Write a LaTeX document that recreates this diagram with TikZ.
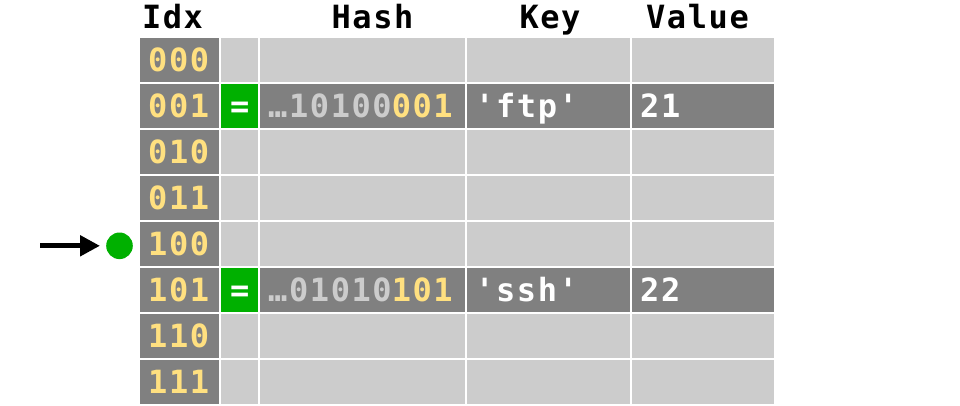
\documentclass[tikz,border=0pt]{standalone}
\usepackage{fontspec}
\usetikzlibrary{arrows.meta}
\newfontfamily\monof[LetterSpace=5]{DejaVu Sans Mono}
\definecolor{darkcell}{HTML}{808080}
\definecolor{lightcell}{HTML}{CCCCCC}
\definecolor{idxyellow}{HTML}{FFE080}
\definecolor{hitgreen}{HTML}{00B000}
\definecolor{hashgray}{HTML}{CCCCCC}
\tikzset{
  base/.style={font=\monof\bfseries\fontsize{32}{38}\selectfont},
  cell/.style={base, rectangle, anchor=north west, inner ysep=0pt, inner xsep=8pt,
    minimum height=44pt, text height=23.3pt, text depth=0pt, align=left},
  idxcell/.style={cell, fill=darkcell, text=idxyellow, text width=63pt},
  eqempty/.style={cell, fill=lightcell, text width=21pt},
  eqhit/.style={cell, fill=hitgreen, text=white, text width=21pt, align=center},
  hashcell/.style={cell, fill=lightcell, text width=189pt},
  keycell/.style={cell, fill=lightcell, text width=147pt},
  valcell/.style={cell, fill=lightcell, text width=126pt},
  full/.style={fill=darkcell, text=white},
  header/.style={base, anchor=base, inner sep=0pt, text=black},
}
\begin{document}
\begin{tikzpicture}[x=1pt,y=-1pt]
\useasboundingbox (0,0) rectangle (960,406);
% headers
\node[header] (hidx) at (172.5,29) {Idx};
\node[header] (hhash) at (372.5,29) {Hash};
\node[header] (hkey) at (550,29) {Key};
\node[header] (hval) at (697.5,29) {Value};
% row 0
\node[idxcell] (i0) at (140,38) {000};
\node[eqempty] (e0) at (221,38) {};
\node[hashcell] (h0) at (260,38) {};
\node[keycell] (k0) at (467,38) {};
\node[valcell] (v0) at (632,38) {};
% row 1
\node[idxcell] (i1) at (140,84) {001};
\node[eqhit] (e1) at (221,84) {=};
\node[hashcell,full] (h1) at (260,84) {{\color{hashgray}…10100}{\color{idxyellow}001}};
\node[keycell,full] (k1) at (467,84) {'ftp'};
\node[valcell,full] (v1) at (632,84) {21};
% row 2
\node[idxcell] (i2) at (140,130) {010};
\node[eqempty] (e2) at (221,130) {};
\node[hashcell] (h2) at (260,130) {};
\node[keycell] (k2) at (467,130) {};
\node[valcell] (v2) at (632,130) {};
% row 3
\node[idxcell] (i3) at (140,176) {011};
\node[eqempty] (e3) at (221,176) {};
\node[hashcell] (h3) at (260,176) {};
\node[keycell] (k3) at (467,176) {};
\node[valcell] (v3) at (632,176) {};
% row 4
\node[idxcell] (i4) at (140,222) {100};
\node[eqempty] (e4) at (221,222) {};
\node[hashcell] (h4) at (260,222) {};
\node[keycell] (k4) at (467,222) {};
\node[valcell] (v4) at (632,222) {};
% row 5
\node[idxcell] (i5) at (140,268) {101};
\node[eqhit] (e5) at (221,268) {=};
\node[hashcell,full] (h5) at (260,268) {{\color{hashgray}…01010}{\color{idxyellow}101}};
\node[keycell,full] (k5) at (467,268) {'ssh'};
\node[valcell,full] (v5) at (632,268) {22};
% row 6
\node[idxcell] (i6) at (140,314) {110};
\node[eqempty] (e6) at (221,314) {};
\node[hashcell] (h6) at (260,314) {};
\node[keycell] (k6) at (467,314) {};
\node[valcell] (v6) at (632,314) {};
% row 7
\node[idxcell] (i7) at (140,360) {111};
\node[eqempty] (e7) at (221,360) {};
\node[hashcell] (h7) at (260,360) {};
\node[keycell] (k7) at (467,360) {};
\node[valcell] (v7) at (632,360) {};
% probe pointer
\node[circle, fill=hitgreen, inner sep=0pt, minimum size=26.6pt] (dot) at (119.5,245.8) {};
\coordinate (astart) at (40,245.8);
\draw[line width=5pt, -{Triangle[length=20pt,width=20pt]}, shorten >=6pt] (astart) -- (dot.west);
\end{tikzpicture}
\end{document}
